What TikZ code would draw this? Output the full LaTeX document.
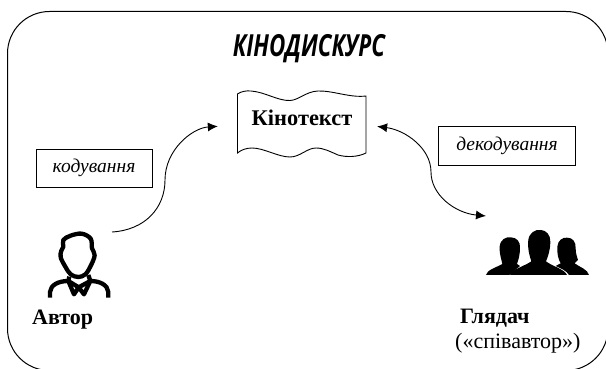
\documentclass[tikz,border=0pt]{standalone}
\usepackage{fontspec}
\setmainfont{Liberation Serif}
\newfontfamily\titlefont{Open Sans}
\usetikzlibrary{arrows.meta}
\tikzset{
    label box/.style={draw,line width=0.9pt,inner sep=0pt,font=\itshape\fontsize{19.5}{22}\selectfont},
    role text/.style={inner sep=0pt,anchor=base west},
    link/.style={line width=0.9pt},
    icon line/.style={line width=4.3pt,line join=round},
}
\begin{document}
\begin{tikzpicture}[x=1pt,y=-1pt]
    \useasboundingbox (0,0) rectangle (606,369);
    \draw [line width=1pt,rounded corners=42pt] (7.5,11.5) rectangle (608,370.5);
    \node [inner sep=0pt] (title) at (309,49) {\scalebox{0.86}[1.17]{\titlefont\itshape\bfseries\fontsize{26}{30}\selectfont КІНОДИСКУРС}};
    \node [inner sep=0pt,minimum width=128pt,minimum height=66pt,text height=15pt,text depth=13pt,font=\bfseries\fontsize{22.4}{26}\selectfont] (kinotext) at (302,125) {Кінотекст};
    \draw [line width=0.9pt]
        (237.5,94) .. controls (241,91.5) and (246,90.5) .. (251,91) .. controls (265,92) and (278,101) .. (290,100.5)
        .. controls (299,100) and (306,91.5) .. (318,91) .. controls (333,90.5) and (350,98) .. (366,96)
        -- (366,153) .. controls (358,157) and (347,157.5) .. (338,155) .. controls (331,152) and (324,148) .. (316,148)
        .. controls (307,148) and (300,157) .. (290,157) .. controls (278,157) and (264,148) .. (252,148)
        .. controls (246,148) and (241,150) .. (237.5,153) -- cycle;
    \node [label box,minimum width=116pt,minimum height=38.5pt] (coding) at (94,168.3) {кодування};
    \node [label box,minimum width=137.5pt,minimum height=38.5pt] (decoding) at (507,146) {декодування};
    \node [role text,font=\bfseries\fontsize{22}{26}\selectfont] (author) at (32,324) {Автор};
    \node [role text,font=\bfseries\fontsize{22}{26}\selectfont] (viewer) at (460,323) {Глядач};
    \node [role text,font=\fontsize{22}{26}\selectfont] (coauthor) at (455,348) {(«співавтор»)};
    \begin{scope}[shift={(0pt,-180pt)},x=0.3333pt,y=-0.3333pt,icon line]
        \draw plot [smooth cycle,tension=0.6] coordinates {(245,161) (272,176) (276,205) (284,226) (272,258) (256,283) (235,291) (212,283) (196,260) (182,232) (184,212) (190,200) (190,180) (212,167)};
        \draw (150,353) -- (150,336) .. controls (152,315) and (175,303) .. (205,303) -- (222,343) -- (236,322) -- (252,343) -- (271,303) .. controls (300,303) and (323,315) .. (325,336) -- (325,353);
        \draw (208,290) -- (205,303) -- (236,322) -- (271,303) -- (265,285);
    \end{scope}
    \begin{scope}[shift={(420pt,-180pt)},x=0.3333pt,y=-0.3333pt]
        \fill (198,285) .. controls (200,270) and (230,262) .. (247,252) .. controls (245,240) and (238,225) .. (239,200) .. controls (241,178) and (258,170) .. (272,172) .. controls (290,172) and (302,185) .. (300,205) .. controls (300,225) and (295,240) .. (291,252) -- (300,258) -- (268,285) -- cycle;
        \fill (270,285) .. controls (275,268) and (315,258) .. (334,244) .. controls (328,225) and (322,205) .. (325,180) .. controls (328,158) and (345,148) .. (362,150) .. controls (378,150) and (392,165) .. (391,185) .. controls (391,210) and (384,230) .. (378,244) .. controls (395,258) and (435,268) .. (441,285) -- cycle;
        \fill (407,258) -- (422,250) .. controls (415,238) and (411,222) .. (412,200) .. controls (414,180) and (428,172) .. (441,173) .. controls (458,173) and (468,185) .. (467,205) .. controls (467,222) and (472,232) .. (474,240) -- (464,250) .. controls (480,262) and (503,268) .. (507,285) -- (447,285) .. controls (440,272) and (422,265) .. (407,258) -- cycle;
    \end{scope}
    \coordinate (authorout) at (112,232);
    \coordinate (viewerin) at (486,216);
    \draw [link,-{Latex[length=10pt,width=9pt]},shorten >=20pt] (authorout) .. controls (145,230) and (165,208) .. (165,180) .. controls (165,150) and (192,128) .. (kinotext.west);
    \draw [link,{Latex[length=10pt,width=9pt]}-{Latex[length=10pt,width=9pt]},shorten <=11pt] (kinotext.east) .. controls (405,130) and (431,148) .. (431,172) .. controls (431,195) and (455,213) .. (viewerin);
\end{tikzpicture}
\end{document}
